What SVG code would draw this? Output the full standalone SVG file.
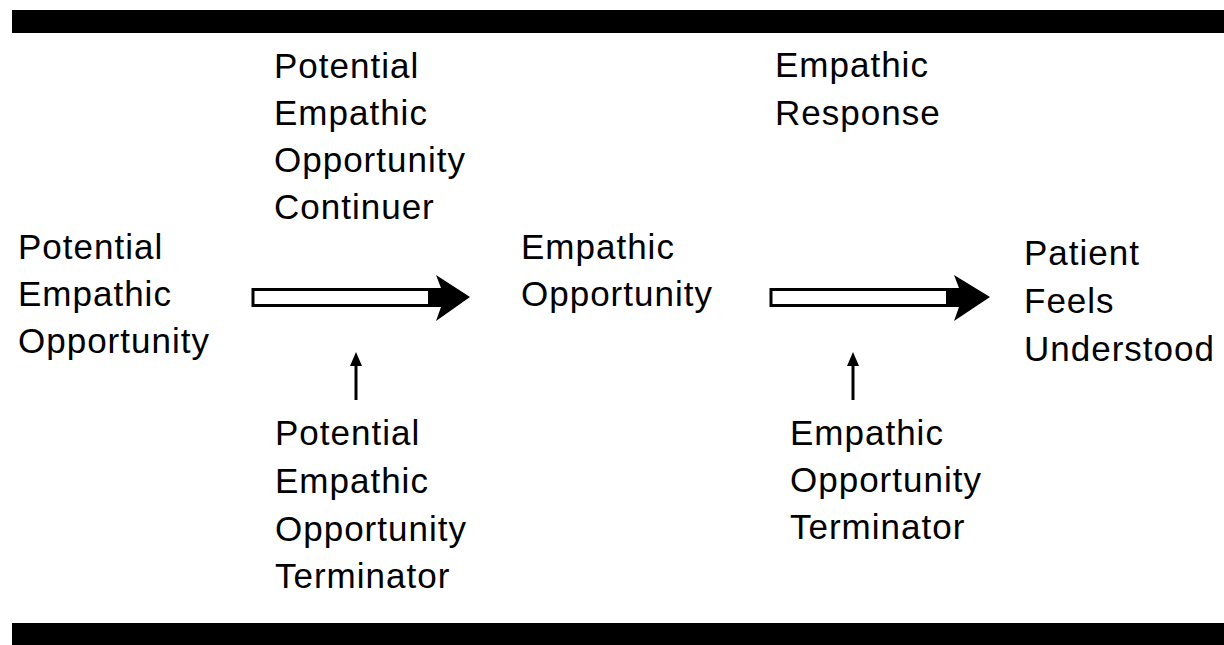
<svg xmlns="http://www.w3.org/2000/svg" width="1224" height="645" viewBox="0 0 1224 645">
<style>
text{font-family:"Liberation Sans",Arial,sans-serif;font-size:35px;letter-spacing:1px;fill:#000}
.shaft{fill:#fff;stroke:#000;stroke-width:3}
.head{fill:#000}
.thin{stroke:#000;stroke-width:3;fill:none}
</style>
<rect x="0" y="0" width="1224" height="645" fill="#fff"/>
<g id="bars">
<rect x="12" y="10" width="1212" height="23" fill="#000"/>
<rect x="12" y="623" width="1212" height="22" fill="#000"/>
</g>
<g id="node-potential-eo">
<text x="18" y="259">Potential</text>
<text x="18" y="306">Empathic</text>
<text x="18" y="353">Opportunity</text>
</g>
<g id="node-peo-continuer">
<text x="274" y="78">Potential</text>
<text x="274" y="125">Empathic</text>
<text x="274" y="172">Opportunity</text>
<text x="274" y="219">Continuer</text>
</g>
<g id="node-peo-terminator">
<text x="275" y="445">Potential</text>
<text x="275" y="493">Empathic</text>
<text x="275" y="541">Opportunity</text>
<text x="275" y="588">Terminator</text>
</g>
<g id="node-empathic-opportunity">
<text x="521" y="259">Empathic</text>
<text x="521" y="306">Opportunity</text>
</g>
<g id="node-empathic-response">
<text x="775" y="77">Empathic</text>
<text x="775" y="125">Response</text>
</g>
<g id="node-eo-terminator">
<text x="790" y="445">Empathic</text>
<text x="790" y="492">Opportunity</text>
<text x="790" y="539">Terminator</text>
</g>
<g id="node-patient">
<text x="1024" y="265">Patient</text>
<text x="1024" y="313">Feels</text>
<text x="1024" y="361">Understood</text>
</g>
<g id="connectors">
<rect class="shaft" x="253" y="289.5" width="180" height="16"/>
<polygon class="head" points="428,288 441,288 436,275 470,297 436,321 441,307 428,307"/>
<rect class="shaft" x="771" y="289.5" width="180" height="16"/>
<polygon class="head" points="946,288 959,288 954,275 990,297 954,321 959,307 946,307"/>
<line class="thin" x1="356" y1="400" x2="356" y2="362"/>
<polygon class="head" points="356,352 362,366 350,366"/>
<line class="thin" x1="853" y1="400" x2="853" y2="362"/>
<polygon class="head" points="853,352 859,366 847,366"/>
</g>
</svg>
